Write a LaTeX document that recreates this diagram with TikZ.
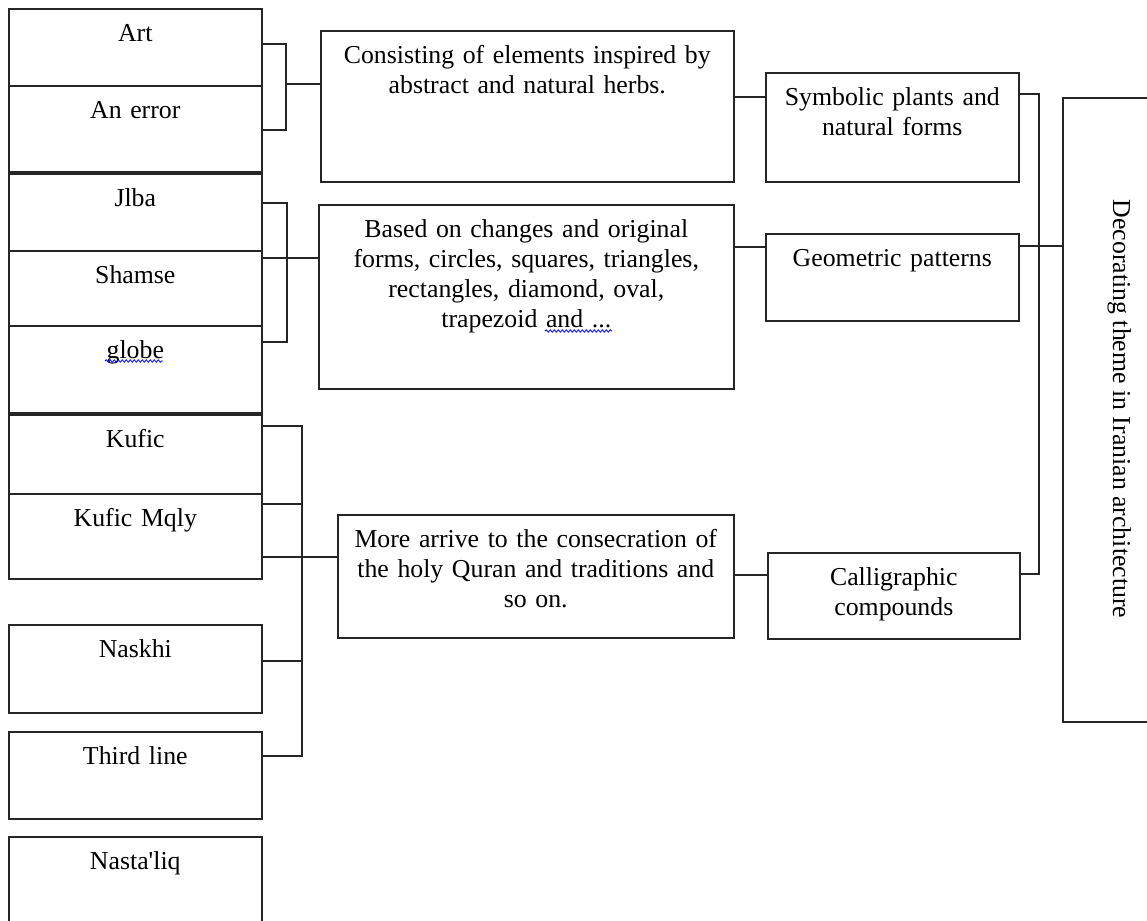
\documentclass[tikz,border=0pt]{standalone}
\usepackage{fontspec}
\setmainfont{Liberation Serif}
\usepackage{tikz}
\usetikzlibrary{decorations.pathmorphing}
\tikzset{bx/.style={draw=black!85,line width=0.8pt,inner sep=0pt,align=center,anchor=north west,text height=16.5pt},
  lbx/.style={bx,text width=126.5pt},
  ln/.style={draw=black!85,line width=0.8pt},
  spellwave/.style={draw=blue,line width=0.4pt,decorate,decoration={snake,amplitude=0.6pt,segment length=2pt}}}

\begin{document}
\begin{tikzpicture}[x=0.5pt,y=-0.5pt,font=\fontsize{12.9}{15}\selectfont]
    \useasboundingbox (0,0) rectangle (1147,921);
    \node[lbx,text depth=22pt] (art) at (8,8) {Art};
    \node[lbx,text depth=26.5pt] (err) at (8,85) {An error};
    \node[lbx,text depth=22pt] (jlba) at (8,173) {Jlba};
    \node[lbx,text depth=21pt] (shamse) at (8,250) {Shamse};
    \node[lbx,text depth=27pt] (globe) at (8,325) {globe};
    \node[lbx,text depth=23pt] (kufic) at (8,414) {Kufic};
    \node[lbx,text depth=26pt] (mqly) at (8,493) {Kufic Mqly};
    \node[lbx,text depth=27.5pt] (naskhi) at (8,624) {Naskhi};
    \node[lbx,text depth=27pt] (third) at (8,731) {Third line};
    \node[lbx,text depth=28.5pt] (nastaliq) at (8,836) {Nasta\textquotesingle liq};

    \node[bx,text width=206.5pt,text depth=59pt] (cons) at (320,30) {Consisting of elements inspired by\\abstract and natural herbs.};
    \node[bx,text width=207.5pt,text depth=75.5pt] (based) at (318,204) {Based on changes and original\\forms, circles, squares, triangles,\\rectangles, diamond, oval,\\trapezoid and ...};
    \node[bx,text width=198pt,text depth=45pt] (more) at (337,514) {More arrive to the consecration of\\the holy Quran and traditions and\\so on.};

    \node[bx,text width=126.5pt,text depth=38pt] (sym) at (765,72) {Symbolic plants and\\natural forms};
    \node[bx,text width=126.5pt,text depth=27pt] (geo) at (765,233) {Geometric patterns};
    \node[bx,text width=126pt,text depth=26.5pt] (cal) at (767,552) {Calligraphic\\compounds};

    \node[bx,minimum width=60pt,minimum height=312pt] (theme) at (1062,97) {};
    \node[rotate=-90,anchor=base] (themetxt) at (1113,409) {Decorating theme in Iranian architecture};

    % spell check marks
    \draw [spellwave] (105,361) -- (163,361);
    \draw [spellwave] (545,331) -- (612,331);

    \coordinate (spa) at (286,84);
    \coordinate (spb) at (287,258);
    \coordinate (spc) at (302,557);
    \coordinate (spd) at (1039,246);

    \draw [ln] (art.east |- 0,44) -| (spa) |- (err.east |- 0,130);
    \draw [ln] (spa) -- (cons.west |- spa);
    \draw [ln] (jlba.east |- 0,203) -| (spb) |- (globe.east |- 0,342);
    \draw [ln] (shamse.east |- spb) -- (based.west |- spb);
    \draw [ln] (kufic.east |- 0,426) -| (spc) |- (third.east |- 0,756);
    \draw [ln] (mqly.east |- 0,504) -- (spc |- 0,504);
    \draw [ln] (naskhi.east |- 0,661) -- (spc |- 0,661);
    \draw [ln] (mqly.east |- spc) -- (more.west |- spc);

    \draw [ln] (cons.east |- 0,97) -- (sym.west |- 0,97);
    \draw [ln] (based.east |- 0,247) -- (geo.west |- 0,247);
    \draw [ln] (more.east |- 0,575) -- (cal.west |- 0,575);

    \draw [ln] (sym.east |- 0,94) -| (spd) |- (cal.east |- 0,574);
    \draw [ln] (geo.east |- spd) -- (theme.west |- spd);
\end{tikzpicture}
\end{document}
